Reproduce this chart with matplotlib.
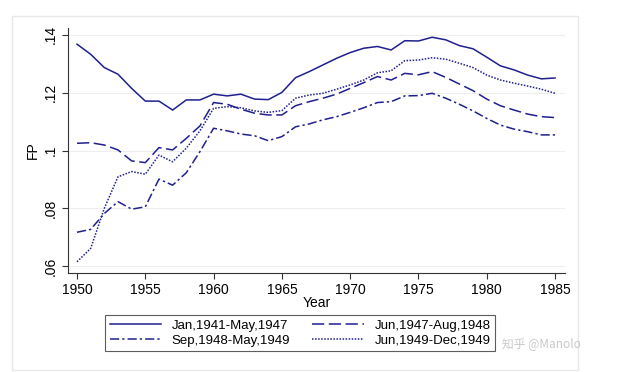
import matplotlib
matplotlib.use("Agg")
import matplotlib.pyplot as plt
from matplotlib.patches import Rectangle

years = list(range(1950, 1986))
s_jan41 = [0.1368, 0.1333, 0.1287, 0.1264, 0.1215, 0.1171, 0.1171, 0.1140, 0.1175, 0.1175,
           0.1195, 0.1189, 0.1195, 0.1178, 0.1176, 0.1201, 0.1252, 0.1273, 0.1296, 0.1319,
           0.1339, 0.1354, 0.1360, 0.1348, 0.1380, 0.1379, 0.1392, 0.1383, 0.1363, 0.1352,
           0.1323, 0.1293, 0.1279, 0.1261, 0.1248, 0.1251]
s_jun47 = [0.1025, 0.1027, 0.1019, 0.1002, 0.0964, 0.0958, 0.1010, 0.1002, 0.1042, 0.1085,
           0.1166, 0.1160, 0.1143, 0.1129, 0.1123, 0.1123, 0.1155, 0.1169, 0.1181, 0.1195,
           0.1215, 0.1235, 0.1256, 0.1244, 0.1267, 0.1262, 0.1273, 0.1253, 0.1230, 0.1207,
           0.1178, 0.1155, 0.1140, 0.1126, 0.1117, 0.1114]
s_sep48 = [0.0717, 0.0727, 0.0782, 0.0823, 0.0797, 0.0805, 0.0901, 0.0880, 0.0923, 0.0996,
           0.1077, 0.1068, 0.1057, 0.1051, 0.1034, 0.1048, 0.1082, 0.1092, 0.1106, 0.1117,
           0.1132, 0.1148, 0.1166, 0.1169, 0.1189, 0.1190, 0.1198, 0.1181, 0.1160, 0.1137,
           0.1111, 0.1088, 0.1074, 0.1065, 0.1054, 0.1054]
s_jun49 = [0.0615, 0.0661, 0.0800, 0.0909, 0.0927, 0.0918, 0.0984, 0.0961, 0.1008, 0.1068,
           0.1146, 0.1152, 0.1148, 0.1137, 0.1132, 0.1138, 0.1181, 0.1192, 0.1198, 0.1212,
           0.1227, 0.1244, 0.1269, 0.1276, 0.1311, 0.1313, 0.1321, 0.1316, 0.1302, 0.1287,
           0.1261, 0.1244, 0.1233, 0.1223, 0.1212, 0.1198]
labels = ["Jan,1941-May,1947", "Jun,1947-Aug,1948", "Sep,1948-May,1949", "Jun,1949-Dec,1949"]
yticks = [0.06, 0.08, 0.10, 0.12, 0.14]
yticklabels = [".06", ".08", ".1", ".12", ".14"]
xticks = [1950, 1955, 1960, 1965, 1970, 1975, 1980, 1985]

color = "#1f1f8f"
plt.rcParams['font.family'] = ['Liberation Sans', 'DejaVu Sans']

fig = plt.figure(figsize=(6.17, 3.72), dpi=100)
fig.patches.append(Rectangle((12/617, 0.005), (578-12)/617, 1-16/372-0.005,
                             transform=fig.transFigure, fill=False,
                             edgecolor="#e8e8e8", linewidth=1.0))
ax = fig.add_axes([68/617, 1-273/372, (565-68)/617, (273-28)/372])

h1, = ax.plot(years, s_jan41, color=color, lw=1.1, ls="-")
h2, = ax.plot(years, s_jun47, color=color, lw=1.1, ls=(0, (8, 3)))
h3, = ax.plot(years, s_sep48, color=color, lw=1.1, ls=(0, (6, 2, 1.5, 2)))
h4, = ax.plot(years, s_jun49, color=color, lw=1.1, ls=(0, (1, 1)))

ax.set_xlim(1949.34, 1985.73)
ax.set_ylim(0.0576, 0.1424)
ax.set_yticks(yticks)
ax.set_yticklabels(yticklabels, rotation=90, va="center")
ax.set_xticks(xticks)
ax.tick_params(labelsize=10, color="#333333", length=4)
for t in yticks:
    ax.axhline(t, color="#eeeeee", lw=0.8, zorder=0)
ax.spines["top"].set_visible(False)
ax.spines["right"].set_visible(False)
ax.spines["left"].set_color("#333333")
ax.spines["bottom"].set_color("#333333")
ax.set_xlabel("Year", fontsize=10, labelpad=-1)
ax.set_ylabel("FP", fontsize=10, labelpad=3)

# row-wise order: (Jan41, Jun47) / (Sep48, Jun49)
leg = fig.legend([h1, h3, h2, h4], [labels[0], labels[2], labels[1], labels[3]],
                 ncol=2, loc="center",
                 bbox_to_anchor=(300/617, 1-333/372), fontsize=9.5,
                 frameon=True, fancybox=False, edgecolor="#333333",
                 handlelength=3.9, columnspacing=1.7, borderpad=0.35,
                 labelspacing=0.2, handletextpad=0.8)
leg.get_frame().set_linewidth(0.8)

# watermark (kept clear of the legend text)
fig.text(502/617, 1-344/372, "知乎 @Manolo", fontsize=8.5, color="#bbbbbb",
         alpha=0.8, va="center", ha="left",
         family=['Noto Sans CJK SC', 'DejaVu Sans'], zorder=10)

fig.savefig("out.png", dpi=100)
